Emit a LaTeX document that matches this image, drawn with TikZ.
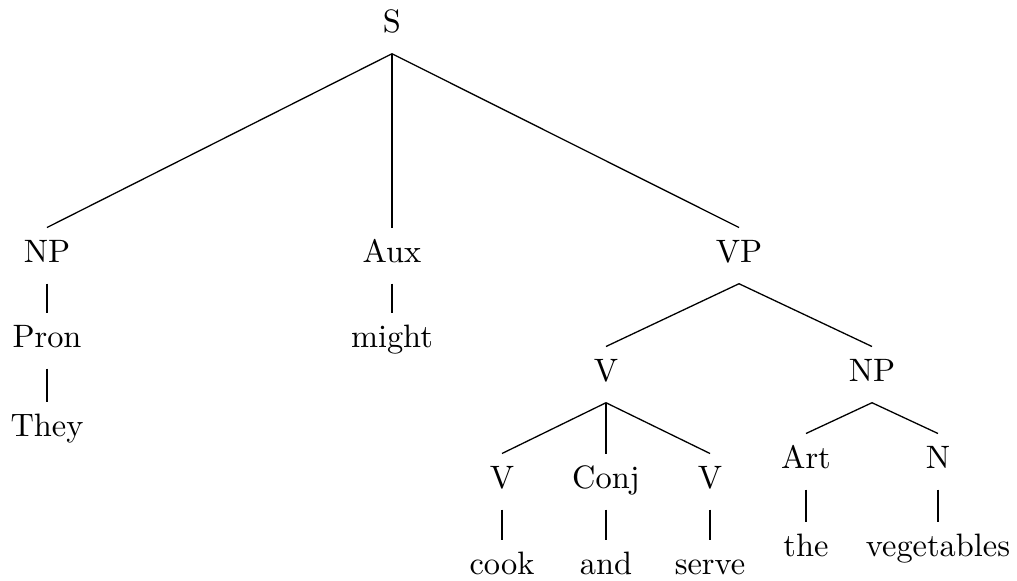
\documentclass[tikz,border=0pt]{standalone}
\begin{document}
\begin{tikzpicture}[x=0.3086pt,y=-0.3086pt,
  lab/.style={anchor=base,inner sep=3.75pt,text height=7pt,text depth=2.45pt,font=\fontsize{10}{12}\selectfont},
  edge/.style={line width=0.4pt,black}]
\useasboundingbox (0,0) rectangle (1017,581);
\node[lab] (S) at (392,33) {S};
\node[lab] (NP) at (47,263) {NP};
\node[lab] (Aux) at (392,263) {Aux};
\node[lab] (VP) at (739,263) {VP};
\node[lab] (Pron) at (47,348) {Pron};
\node[lab] (might) at (392,348) {might};
\node[lab] (They) at (47,437) {They};
\node[lab] (V) at (606,382) {V};
\node[lab] (NPb) at (872,382) {NP};
\node[lab] (Va) at (502,489) {V};
\node[lab] (Conj) at (606,489) {Conj};
\node[lab] (Vb) at (710,489) {V};
\node[lab] (Art) at (806,469) {Art};
\node[lab] (N) at (938,469) {N};
\node[lab] (cook) at (502,575) {cook};
\node[lab] (and) at (606,575) {and};
\node[lab] (serve) at (710,575) {serve};
\node[lab] (the) at (806,557) {the};
\node[lab] (veg) at (938,557) {vegetables};
\draw[edge] (S.south) -- (NP.north);
\draw[edge] (S.south) -- (Aux.north);
\draw[edge] (S.south) -- (VP.north);
\draw[edge] (NP.south) -- (Pron.north);
\draw[edge] (Pron.south) -- (They.north);
\draw[edge] (Aux.south) -- (might.north);
\draw[edge] (VP.south) -- (V.north);
\draw[edge] (VP.south) -- (NPb.north);
\draw[edge] (V.south) -- (Va.north);
\draw[edge] (V.south) -- (Conj.north);
\draw[edge] (V.south) -- (Vb.north);
\draw[edge] (NPb.south) -- (Art.north);
\draw[edge] (NPb.south) -- (N.north);
\draw[edge] (Va.south) -- (cook.north);
\draw[edge] (Conj.south) -- (and.north);
\draw[edge] (Vb.south) -- (serve.north);
\draw[edge] (Art.south) -- (the.north);
\draw[edge] (N.south) -- (veg.north);
\end{tikzpicture}
\end{document}
